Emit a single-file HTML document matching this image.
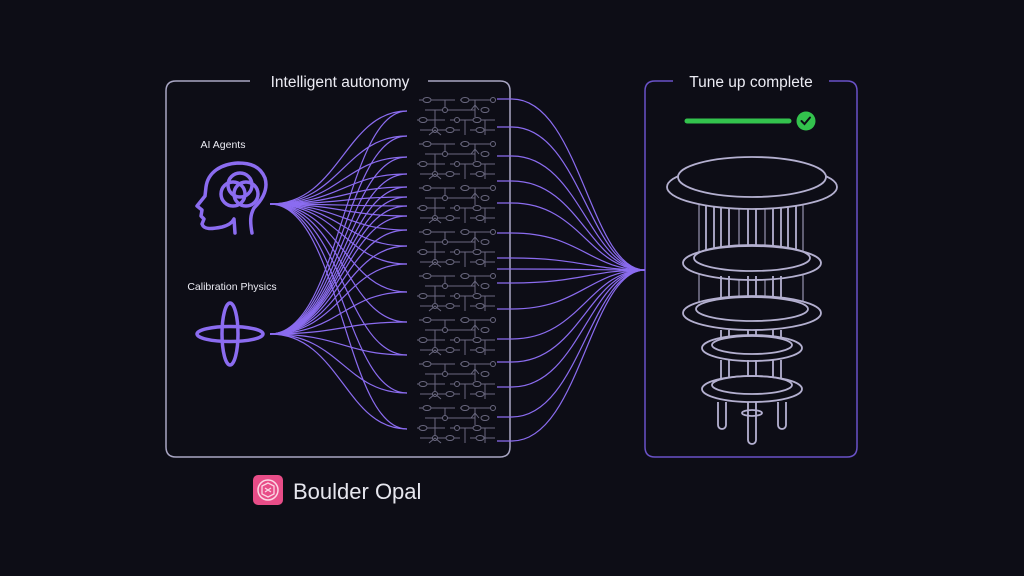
<!DOCTYPE html>
<html><head><meta charset="utf-8"><style>
html,body{margin:0;padding:0;background:#0d0d16;}
svg{display:block;}
text{font-family:"Liberation Sans",sans-serif;}
</style></head><body>
<svg width="1024" height="576" viewBox="0 0 1024 576" xmlns="http://www.w3.org/2000/svg">
<defs>
<pattern id="grid" x="415" y="95" width="82" height="44" patternUnits="userSpaceOnUse">
<g fill="none" stroke="#6a6880" stroke-width="1">
<path d="M4,5 H40 M30,5 V15 M10,15 H60 M45,5 H75 M60,5 V22 M2,25 H30 M20,15 V35 M35,25 H80 M50,25 V40 M5,35 H45 M55,35 H80 M70,25 V40"/>
<ellipse cx="12" cy="5" rx="4" ry="2.5" fill="#0d0d16"/><ellipse cx="50" cy="5" rx="4" ry="2.5" fill="#0d0d16"/>
<circle cx="30" cy="15" r="2.5" fill="#0d0d16"/><ellipse cx="70" cy="15" rx="4" ry="2.5" fill="#0d0d16"/>
<ellipse cx="8" cy="25" rx="4" ry="2.5" fill="#0d0d16"/><circle cx="42" cy="25" r="2.5" fill="#0d0d16"/>
<ellipse cx="62" cy="25" rx="4" ry="2.5" fill="#0d0d16"/><circle cx="20" cy="35" r="2.5" fill="#0d0d16"/>
<ellipse cx="35" cy="35" rx="4" ry="2.5" fill="#0d0d16"/><ellipse cx="65" cy="35" rx="4" ry="2.5" fill="#0d0d16"/>
<circle cx="78" cy="5" r="2.5" fill="#0d0d16"/><path d="M14,40 L20,35 L26,40 M56,15 L60,10 L64,15" />
</g>
</pattern>
</defs>
<rect width="1024" height="576" fill="#0d0d16"/>
<!-- left box -->
<path d="M250,81 H176 Q166,81 166,91 V447 Q166,457 176,457 H500 Q510,457 510,447 V91 Q510,81 500,81 H428" fill="none" stroke="#a9a6c4" stroke-width="1.5"/>
<text x="340" y="87" font-size="15.5" fill="#ececf4" text-anchor="middle">Intelligent autonomy</text>
<!-- right box -->
<path d="M673,81 H655 Q645,81 645,91 V447 Q645,457 655,457 H847 Q857,457 857,447 V91 Q857,81 847,81 H829" fill="none" stroke="#6a52c8" stroke-width="1.5"/>
<text x="751" y="87" font-size="15.5" fill="#ececf4" text-anchor="middle">Tune up complete</text>
<!-- grid -->
<rect x="415" y="95" width="82" height="350" fill="url(#grid)"/>
<!-- fan lines -->
<g fill="none" stroke="#8b6cf0" stroke-width="1.2">
<path d="M270,204 C340,204 345,111 407,111"/><path d="M270,204 C340,204 345,136 407,136"/><path d="M270,204 C340,204 345,157 407,157"/><path d="M270,204 C340,204 345,174 407,174"/><path d="M270,204 C340,204 345,187 407,187"/><path d="M270,204 C340,204 345,197 407,197"/><path d="M270,204 C340,204 345,206 407,206"/><path d="M270,204 C340,204 345,216 407,216"/><path d="M270,204 C340,204 345,230 407,230"/><path d="M270,204 C340,204 345,246 407,246"/><path d="M270,204 C340,204 345,264 407,264"/><path d="M270,204 C340,204 345,292 407,292"/><path d="M270,204 C340,204 345,322 407,322"/><path d="M270,204 C340,204 345,355 407,355"/><path d="M270,204 C340,204 345,393 407,393"/><path d="M270,204 C340,204 345,429 407,429"/>
<path d="M270,334 C340,334 345,111 407,111"/><path d="M270,334 C340,334 345,136 407,136"/><path d="M270,334 C340,334 345,157 407,157"/><path d="M270,334 C340,334 345,174 407,174"/><path d="M270,334 C340,334 345,187 407,187"/><path d="M270,334 C340,334 345,197 407,197"/><path d="M270,334 C340,334 345,206 407,206"/><path d="M270,334 C340,334 345,216 407,216"/><path d="M270,334 C340,334 345,230 407,230"/><path d="M270,334 C340,334 345,246 407,246"/><path d="M270,334 C340,334 345,264 407,264"/><path d="M270,334 C340,334 345,292 407,292"/><path d="M270,334 C340,334 345,322 407,322"/><path d="M270,334 C340,334 345,355 407,355"/><path d="M270,334 C340,334 345,393 407,393"/><path d="M270,334 C340,334 345,429 407,429"/>
<path d="M497,99 H512 C580,99 590,270 645,270"/><path d="M497,127 H512 C580,127 590,270 645,270"/><path d="M497,156 H512 C580,156 590,270 645,270"/><path d="M497,181 H512 C580,181 590,270 645,270"/><path d="M497,203 H512 C580,203 590,270 645,270"/><path d="M497,233 H512 C580,233 590,270 645,270"/><path d="M497,258 H512 C580,258 590,270 645,270"/><path d="M497,269 H512 C580,269 590,270 645,270"/><path d="M497,283 H512 C580,283 590,270 645,270"/><path d="M497,309 H512 C580,309 590,270 645,270"/><path d="M497,339 H512 C580,339 590,270 645,270"/><path d="M497,362 H512 C580,362 590,270 645,270"/><path d="M497,387 H512 C580,387 590,270 645,270"/><path d="M497,417 H512 C580,417 590,270 645,270"/><path d="M497,441 H512 C580,441 590,270 645,270"/>
</g>
<!-- icons -->
<g fill="none" stroke="#8b6cf0" stroke-width="3.5" stroke-linecap="round" stroke-linejoin="round">
<path d="M252,233 C250,222 250,215 254,208 C264,198 268,188 265,178 C260,166 250,163 238,163 C221,164 208,172 206,187 L205,196 L197,206 L202,210 L201,216 L204,219 L202,224 C204,230 212,229 222,227 C230,225 233,221 234,219 L235,233"/>
<circle cx="240" cy="185" r="12"/><circle cx="233" cy="194" r="12"/><circle cx="246" cy="194" r="12"/>
<ellipse cx="230" cy="334" rx="33" ry="7.5"/><ellipse cx="230" cy="334" rx="8" ry="31"/>
</g>
<text x="223" y="148" font-size="10.5" fill="#ececf4" text-anchor="middle">AI Agents</text>
<text x="232" y="290" font-size="10.5" fill="#ececf4" text-anchor="middle">Calibration Physics</text>
<!-- progress -->
<line x1="687" y1="121" x2="789" y2="121" stroke="#33c24d" stroke-width="5" stroke-linecap="round"/>
<circle cx="806" cy="121" r="9.5" fill="#33c24d"/>
<path d="M801.5,121 L804.5,124 L810,117.5" fill="none" stroke="#0d0d16" stroke-width="2" stroke-linecap="round"/>
<!-- chip -->
<g fill="none" stroke="#b4b0d0" stroke-width="1.8">
<g stroke-width="1"><line x1="699" y1="205" x2="699" y2="310"/><line x1="739" y1="205" x2="739" y2="330"/><line x1="765" y1="205" x2="765" y2="330"/><line x1="803" y1="205" x2="803" y2="310"/></g>
<path d="M706,205 V253 a4,4 0 0 0 8,0 V205 M721,205 V258 a4,4 0 0 0 8,0 V205 M748,205 V258 a4,4 0 0 0 8,0 V205 M773,205 V258 a4,4 0 0 0 8,0 V205 M788,205 V253 a4,4 0 0 0 8,0 V205"/>
<ellipse cx="752" cy="263" rx="69" ry="17" fill="#0d0d16"/><ellipse cx="752" cy="258" rx="58" ry="13"/>
<path d="M721,276 V312 a4,4 0 0 0 8,0 V276 M748,276 V312 a4,4 0 0 0 8,0 V276 M773,276 V312 a4,4 0 0 0 8,0 V276"/>
<ellipse cx="752" cy="313" rx="69" ry="17" fill="#0d0d16"/><ellipse cx="752" cy="309" rx="56" ry="12"/>
<path d="M721,330 V345 a4,4 0 0 0 8,0 V330 M748,330 V345 a4,4 0 0 0 8,0 V330 M773,330 V345 a4,4 0 0 0 8,0 V330"/>
<ellipse cx="752" cy="348" rx="50" ry="13" fill="#0d0d16"/><ellipse cx="752" cy="345" rx="40" ry="9"/>
<path d="M721,360 V388 M729,360 V388 M748,360 V388 M756,360 V388 M773,360 V388 M781,360 V388"/>
<ellipse cx="752" cy="389" rx="50" ry="13" fill="#0d0d16"/><ellipse cx="752" cy="385" rx="40" ry="9"/>
<path d="M718,402 V425 a4,4 0 0 0 8,0 V402 M778,402 V425 a4,4 0 0 0 8,0 V402 M748,402 V440 a4,4 0 0 0 8,0 V402"/>
<ellipse cx="752" cy="413" rx="10" ry="3"/>
<ellipse cx="752" cy="187" rx="85" ry="22" fill="#0d0d16"/><ellipse cx="752" cy="177" rx="74" ry="20" fill="#0d0d16"/>
</g>
<!-- logo -->
<rect x="253" y="475" width="30" height="30" rx="5" fill="#e84d88"/>
<circle cx="268" cy="490" r="10" fill="none" stroke="#fbd6e4" stroke-width="1.5"/>
<path d="M262,486 L268,483 L274,486 L274,494 L268,497 L262,494 Z M265,488 L271,492 M271,488 L265,492" fill="none" stroke="#fbd6e4" stroke-width="1.3"/>
<text x="293" y="499" font-size="22" fill="#e6e6ee">Boulder Opal</text>
</svg>
</body></html>
